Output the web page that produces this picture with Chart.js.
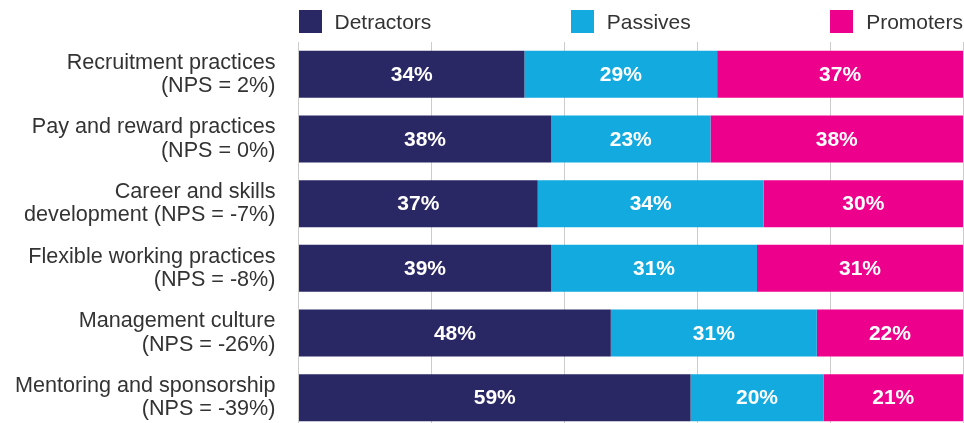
<!DOCTYPE html>
<html>
<head>
<meta charset="utf-8">
<script src="https://cdn.jsdelivr.net/npm/chart.js@4"></script>
<style>
  html, body { margin: 0; padding: 0; background: #fff; overflow: hidden; }
  #wrap { position: relative; width: 964px; height: 430px; }
  #legend {
    position: absolute; top: 10px; display: flex; justify-content: space-between;
    font-family: "Liberation Sans", Arial, sans-serif; font-size: 21px; color: #333;
  }
  #legend .item { display: flex; align-items: center; height: 23px; }
  #legend .box { width: 23px; height: 23px; margin-right: 13px; }
</style>
</head>
<body>
<div id="wrap">
  <div id="legend"></div>
  <canvas id="chart" width="964" height="430"></canvas>
</div>
<script>
  // categories (two-line labels)
  var categories = [
    ["Recruitment practices", "(NPS = 2%)"],
    ["Pay and reward practices", "(NPS = 0%)"],
    ["Career and skills", "development (NPS = -7%)"],
    ["Flexible working practices", "(NPS = -8%)"],
    ["Management culture", "(NPS = -26%)"],
    ["Mentoring and sponsorship", "(NPS = -39%)"]
  ];

  // bar shares (each row fills 100%)
  var detractors = [34, 38, 36, 38, 47, 59];
  var passives = [29, 24, 34, 31, 31, 20];
  var promoters = [37, 38, 30, 31, 22, 21];

  // printed percentages on the bars
  var detractorsText = ["34%", "38%", "37%", "39%", "48%", "59%"];
  var passivesText = ["29%", "23%", "34%", "31%", "31%", "20%"];
  var promotersText = ["37%", "38%", "30%", "31%", "22%", "21%"];

  var xTicks = [0, 20, 40, 60, 80, 100];

  var seriesNames = ["Detractors", "Passives", "Promoters"];
  var colors = ["#2a2765", "#12aadf", "#ec008c"];
  var barTexts = [detractorsText, passivesText, promotersText];

  var FONT = '"Liberation Sans", Arial, sans-serif';

  // draws the white % labels in the middle of each segment
  var barLabels = {
    id: "barLabels",
    afterDatasetsDraw: function (chart) {
      var ctx = chart.ctx;
      ctx.save();
      ctx.fillStyle = "#fff";
      ctx.font = "bold 21px " + FONT;
      ctx.textAlign = "center";
      ctx.textBaseline = "middle";
      chart.data.datasets.forEach(function (ds, i) {
        chart.getDatasetMeta(i).data.forEach(function (bar, j) {
          var p = bar.getProps(["x", "y", "base"], true);
          ctx.fillText(barTexts[i][j], (p.x + p.base) / 2, p.y + 1);
        });
      });
      ctx.restore();
    }
  };

  var chart = new Chart(document.getElementById("chart"), {
    type: "bar",
    data: {
      labels: categories,
      datasets: [
        { label: seriesNames[0], data: detractors, backgroundColor: colors[0] },
        { label: seriesNames[1], data: passives, backgroundColor: colors[1] },
        { label: seriesNames[2], data: promoters, backgroundColor: colors[2] }
      ]
    },
    options: {
      indexAxis: "y",
      responsive: false,
      animation: false,
      datasets: { bar: { barPercentage: 0.728, categoryPercentage: 1, borderWidth: 0 } },
      layout: { padding: { top: 42, right: 1, left: 0, bottom: 0 } },
      plugins: { legend: { display: false }, tooltip: { enabled: false } },
      scales: {
        x: {
          stacked: true,
          min: 0,
          max: 100,
          afterBuildTicks: function (scale) {
            scale.ticks = xTicks.map(function (v) { return { value: v }; });
          },
          ticks: { display: false },
          grid: { color: "#cccccc", lineWidth: 1, drawTicks: false },
          border: { display: false }
        },
        y: {
          stacked: true,
          afterFit: function (scale) {
            scale.width = 298.5;
            // labels sit inside their bands, no extra top/bottom room needed
            scale.paddingTop = 0;
            scale.paddingBottom = 0;
          },
          grid: { display: false, drawTicks: false },
          border: { display: false },
          ticks: {
            padding: 23,
            color: "#333",
            font: { family: FONT, size: 21.6, lineHeight: 1.07 }
          }
        }
      }
    },
    plugins: [barLabels]
  });

  // html legend spread across the plot width
  var legend = document.getElementById("legend");
  legend.style.left = chart.chartArea.left + "px";
  legend.style.width = (chart.chartArea.right - chart.chartArea.left) + "px";
  seriesNames.forEach(function (name, i) {
    var item = document.createElement("div");
    item.className = "item";
    var box = document.createElement("span");
    box.className = "box";
    box.style.background = colors[i];
    var txt = document.createElement("span");
    txt.textContent = name;
    item.appendChild(box);
    item.appendChild(txt);
    legend.appendChild(item);
  });
</script>
</body>
</html>
